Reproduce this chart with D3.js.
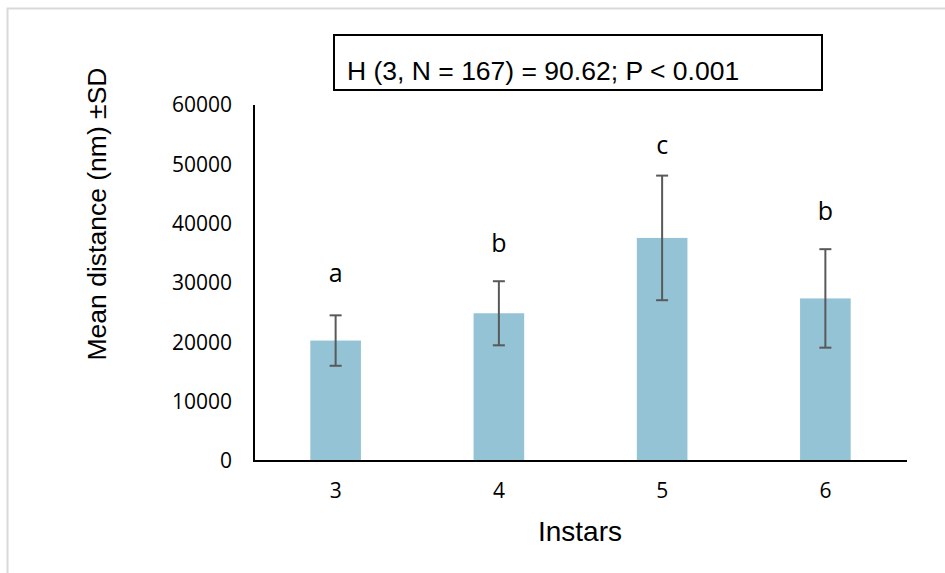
<!DOCTYPE html>
<html>
<head>
<meta charset="utf-8">
<script src="https://cdn.jsdelivr.net/npm/d3@7"></script>
<style>
  html, body { margin: 0; padding: 0; background: #fff; }
  svg { display: block; }
</style>
</head>
<body>
<svg id="chart" width="945" height="573"></svg>
<script>
// ---- data ----
const categories = ["3", "4", "5", "6"];
const means = [20300, 24900, 37600, 27400];
const sds = [4250, 5400, 10500, 8300];
const letters = ["a", "b", "c", "b"];
const letterLevels = [30200, 35300, 51700, 40700];
const yTicks = [0, 10000, 20000, 30000, 40000, 50000, 60000];
const statText = "H (3, N = 167) = 90.62; P < 0.001";
const xTitle = "Instars";
const yTitle = "Mean distance (nm) \u00B1SD";

// ---- layout ----
const svg = d3.select("#chart");
const plot = { left: 254, right: 907, top: 105, bottom: 461 };

// outer frame (light grey)
svg.append("rect")
  .attr("x", 7.5).attr("y", 8.5)
  .attr("width", 960).attr("height", 600)
  .attr("fill", "none").attr("stroke", "#d9d9d9").attr("stroke-width", 2);

const x = d3.scaleBand().domain(categories).range([plot.left, plot.right]).padding(0);
const y = d3.scaleLinear().domain([0, 60000]).range([plot.bottom, plot.top]);
const barW = x.bandwidth() * 0.31;

// bars
svg.append("g").selectAll("rect").data(categories).join("rect")
  .attr("x", (d) => x(d) + x.bandwidth() / 2 - barW / 2)
  .attr("y", (d, i) => y(means[i]))
  .attr("width", barW)
  .attr("height", (d, i) => y(0) - y(means[i]))
  .attr("fill", "#93c3d4");

// error bars
const eg = svg.append("g").attr("stroke", "#595959").attr("stroke-width", 2);
categories.forEach((c, i) => {
  const cx = x(c) + x.bandwidth() / 2;
  const hi = y(means[i] + sds[i]), lo = y(means[i] - sds[i]);
  eg.append("line").attr("x1", cx).attr("x2", cx).attr("y1", hi).attr("y2", lo);
  eg.append("line").attr("x1", cx - 6).attr("x2", cx + 6).attr("y1", hi).attr("y2", hi);
  eg.append("line").attr("x1", cx - 6).attr("x2", cx + 6).attr("y1", lo).attr("y2", lo);
});

// significance letters
svg.append("g").selectAll("text").data(categories).join("text")
  .attr("x", (d) => x(d) + x.bandwidth() / 2)
  .attr("y", (d, i) => y(letterLevels[i]))
  .attr("text-anchor", "middle")
  .attr("font-family", "'Open Sans', sans-serif")
  .attr("font-size", 25)
  .attr("fill", "#000")
  .text((d, i) => letters[i]);

// y axis
const yAxis = d3.axisLeft(y).tickValues(yTicks).tickSize(0).tickPadding(22).tickFormat(d3.format("d"));
const gy = svg.append("g").attr("transform", `translate(${plot.left},0)`).call(yAxis);
gy.select(".domain").remove();
gy.selectAll("text")
  .attr("font-family", "'Open Sans', sans-serif")
  .attr("font-size", 21)
  .attr("fill", "#000");

// x axis
const xAxis = d3.axisBottom(x).tickSize(0).tickPadding(22);
const gx = svg.append("g").attr("transform", `translate(0,${plot.bottom})`).call(xAxis);
gx.select(".domain").remove();
gx.selectAll("text")
  .attr("font-family", "'Open Sans', sans-serif")
  .attr("font-size", 21)
  .attr("fill", "#000");

// axis lines
svg.append("line").attr("x1", plot.left).attr("x2", plot.left)
  .attr("y1", plot.top).attr("y2", plot.bottom + 1)
  .attr("stroke", "#000").attr("stroke-width", 2);
svg.append("line").attr("x1", plot.left - 1).attr("x2", plot.right)
  .attr("y1", plot.bottom).attr("y2", plot.bottom)
  .attr("stroke", "#000").attr("stroke-width", 2);

// axis titles
svg.append("text")
  .attr("x", 580)
  .attr("y", 541)
  .attr("text-anchor", "middle")
  .attr("font-family", "'Liberation Sans', Arial, sans-serif")
  .attr("font-size", 28)
  .attr("fill", "#000")
  .text(xTitle);

svg.append("text")
  .attr("transform", "translate(106,214) rotate(-90)")
  .attr("text-anchor", "middle")
  .attr("font-family", "'Liberation Sans', Arial, sans-serif")
  .attr("font-size", 26.5)
  .attr("fill", "#000")
  .text(yTitle);

// stat box
svg.append("rect")
  .attr("x", 334).attr("y", 35)
  .attr("width", 488).attr("height", 55)
  .attr("fill", "#fff").attr("stroke", "#000").attr("stroke-width", 2);
svg.append("text")
  .attr("x", 347).attr("y", 80)
  .attr("font-family", "'Liberation Sans', Arial, sans-serif")
  .attr("font-size", 26.5)
  .attr("fill", "#000")
  .text(statText);
</script>
</body>
</html>
